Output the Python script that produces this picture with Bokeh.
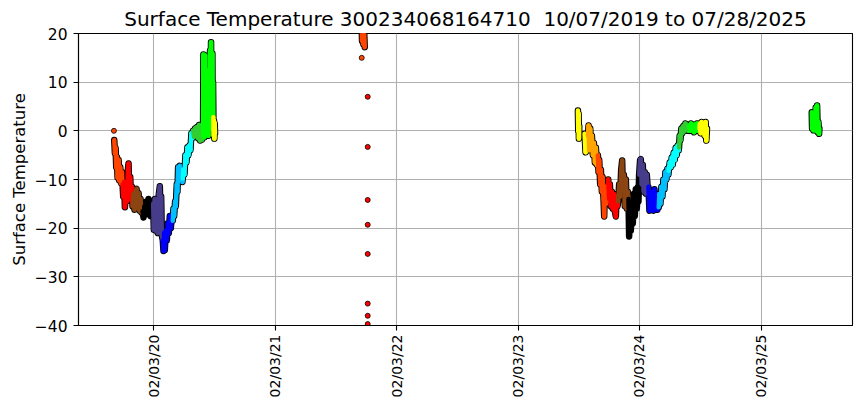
import numpy as np
import pandas as pd
from bokeh.plotting import figure
from bokeh.models import Range1d, FixedTicker, DatetimeTickFormatter
from bokeh.embed import file_html
from bokeh.resources import INLINE

# ---------------- data ----------------
# month -> marker colour
month_colors = {1: "#000000", 2: "#483D8B", 3: "#0000FF", 4: "#00BFFF",
                5: "#00FFFF", 6: "#32CD32", 7: "#00FF00", 8: "#FFFF00",
                9: "#FFA500", 10: "#FF4500", 11: "#FF0000", 12: "#8B4513"}

seg_2019_dates = [
    "2019-10-08", "2019-10-10", "2019-10-12", "2019-10-14", "2019-10-16", "2019-10-18",
    "2019-10-21", "2019-10-23", "2019-10-26", "2019-10-29", "2019-10-31",
    "2019-11-02", "2019-11-04", "2019-11-07", "2019-11-09", "2019-11-12", "2019-11-15",
    "2019-11-18", "2019-11-20", "2019-11-22", "2019-11-25", "2019-11-28", "2019-11-30",
    "2019-12-02", "2019-12-05", "2019-12-08", "2019-12-11", "2019-12-14", "2019-12-17",
    "2019-12-20", "2019-12-23", "2019-12-26", "2019-12-29",
    "2020-01-01", "2020-01-04", "2020-01-07", "2020-01-10", "2020-01-13", "2020-01-16",
    "2020-01-19", "2020-01-22", "2020-01-25", "2020-01-28", "2020-01-31",
    "2020-02-02", "2020-02-04", "2020-02-07", "2020-02-10", "2020-02-13", "2020-02-16",
    "2020-02-19", "2020-02-22", "2020-02-24", "2020-02-26", "2020-02-28",
    "2020-03-02", "2020-03-04", "2020-03-06", "2020-03-08", "2020-03-11", "2020-03-14",
    "2020-03-17", "2020-03-20", "2020-03-23", "2020-03-26", "2020-03-29",
    "2020-04-01", "2020-04-03", "2020-04-05", "2020-04-08", "2020-04-10", "2020-04-13",
    "2020-04-15", "2020-04-17", "2020-04-19", "2020-04-22", "2020-04-25", "2020-04-28",
    "2020-04-30",
    "2020-05-01", "2020-05-03", "2020-05-06", "2020-05-09", "2020-05-12", "2020-05-15",
    "2020-05-18", "2020-05-21", "2020-05-24", "2020-05-27", "2020-05-30",
    "2020-06-01", "2020-06-04", "2020-06-07", "2020-06-10", "2020-06-13", "2020-06-16",
    "2020-06-19", "2020-06-22", "2020-06-25", "2020-06-28",
    "2020-07-01", "2020-07-02", "2020-07-03", "2020-07-04", "2020-07-05", "2020-07-07",
    "2020-07-08", "2020-07-10", "2020-07-11", "2020-07-13", "2020-07-14", "2020-07-16",
    "2020-07-17", "2020-07-19", "2020-07-20", "2020-07-22", "2020-07-23", "2020-07-25",
    "2020-07-26", "2020-07-27", "2020-07-28", "2020-07-29", "2020-07-30", "2020-07-31",
    "2020-08-01", "2020-08-02", "2020-08-03", "2020-08-04", "2020-08-05", "2020-08-06",
]
seg_2019_temps = [
    -1.9, -4.6, -3.5, -7.5, -5.4, -9.6, -6.0, -10.2, -7.5, -10.8, -8.5,
    -11.0, -13.5, -10.5, -15.7, -12.0, -14.5, -8.0, -6.7, -13.8, -9.5, -14.2, -11.5,
    -15.5, -13.0, -16.2, -12.5, -11.9, -15.8, -12.8, -16.4, -14.0, -16.8,
    -16.5, -17.8, -15.5, -17.2, -14.5, -17.0, -14.0, -16.0, -17.5, -15.0, -16.8,
    -15.0, -20.3, -14.0, -20.5, -15.5, -21.0, -13.0, -11.4, -19.0, -13.5, -21.5,
    -22.5, -24.7, -21.0, -24.5, -20.5, -22.5, -19.0, -21.0, -17.5, -20.0, -17.4,
    -18.5, -16.0, -17.5, -14.5, -15.5, -11.0, -12.5, -7.5, -9.5, -7.2, -10.0, -8.0, -10.5,
    -9.8, -8.0, -9.0, -5.0, -6.5, -3.4, -5.0, -3.0, -4.0, -0.5, -1.5,
    0.0, -1.2, 0.5, -0.8, 0.8, -1.5, 1.2, -2.0, 0.5, -1.8,
    -1.0, 15.7, 0.5, 12.0, -1.3, 15.5, 1.0, 8.0, -0.5, 10.0, 0.0, 6.0,
    -1.0, 12.5, 2.0, 16.5, 1.5, 18.2, 3.0, 14.0, 0.5, 15.9, 1.0, 10.0,
    2.8, -1.0, 2.0, -1.6, 1.5, -0.5,
]

seg_2021_dates = ["2021-10-20", "2021-10-22", "2021-10-24", "2021-10-26", "2021-10-28", "2021-10-30"]
seg_2021_temps = [24.0, 18.5, 23.0, 17.8, 21.0, 17.2]

seg_2023a_dates = ["2023-08-02", "2023-08-03", "2023-08-04", "2023-08-05", "2023-08-06"]
seg_2023a_temps = [4.2, 0.0, 3.5, -1.6, 1.0]

seg_2023b_dates = [
    "2023-08-22", "2023-08-25", "2023-08-28", "2023-08-30",
    "2023-09-01", "2023-09-03", "2023-09-05", "2023-09-08", "2023-09-10", "2023-09-13",
    "2023-09-16", "2023-09-19", "2023-09-22", "2023-09-25", "2023-09-28",
    "2023-10-01", "2023-10-03", "2023-10-05", "2023-10-08", "2023-10-10", "2023-10-13",
    "2023-10-15", "2023-10-18", "2023-10-20", "2023-10-22", "2023-10-25", "2023-10-28",
    "2023-10-30",
    "2023-11-01", "2023-11-04", "2023-11-06", "2023-11-09", "2023-11-12", "2023-11-15",
    "2023-11-18", "2023-11-21", "2023-11-24", "2023-11-26", "2023-11-29",
    "2023-12-01", "2023-12-04", "2023-12-07", "2023-12-10", "2023-12-13", "2023-12-15",
    "2023-12-18", "2023-12-21", "2023-12-24", "2023-12-27", "2023-12-30",
    "2024-01-01", "2024-01-03", "2024-01-05", "2024-01-08", "2024-01-11", "2024-01-14",
    "2024-01-17", "2024-01-20", "2024-01-23", "2024-01-26", "2024-01-29", "2024-01-31",
    "2024-02-02", "2024-02-05", "2024-02-07", "2024-02-10", "2024-02-13", "2024-02-16",
    "2024-02-19", "2024-02-22", "2024-02-25", "2024-02-28",
    "2024-03-01", "2024-03-04", "2024-03-07", "2024-03-10", "2024-03-13", "2024-03-16",
    "2024-03-19", "2024-03-22", "2024-03-25", "2024-03-28", "2024-03-31",
    "2024-04-01", "2024-04-03", "2024-04-06", "2024-04-09", "2024-04-12", "2024-04-15",
    "2024-04-18", "2024-04-21", "2024-04-24", "2024-04-27", "2024-04-30",
    "2024-05-01", "2024-05-04", "2024-05-07", "2024-05-10", "2024-05-13", "2024-05-16",
    "2024-05-19", "2024-05-22", "2024-05-25", "2024-05-28", "2024-05-31",
    "2024-06-01", "2024-06-03", "2024-06-05", "2024-06-08", "2024-06-11", "2024-06-14",
    "2024-06-17", "2024-06-20", "2024-06-23", "2024-06-26", "2024-06-29",
    "2024-07-01", "2024-07-04", "2024-07-07", "2024-07-10", "2024-07-13", "2024-07-16",
    "2024-07-19", "2024-07-22", "2024-07-25", "2024-07-28", "2024-07-31",
    "2024-08-01", "2024-08-03", "2024-08-05", "2024-08-08", "2024-08-11", "2024-08-14",
    "2024-08-17", "2024-08-20", "2024-08-22", "2024-08-24",
]
seg_2023b_temps = [
    -0.6, -4.4, -1.5, -3.5,
    -1.0, 1.1, -4.0, 0.5, -3.0, -1.0, -5.0, -2.5, -6.5, -3.5, -7.0,
    -5.0, -8.5, -6.0, -11.0, -8.0, -12.5, -9.5, -14.0, -17.6, -11.5, -15.0, -12.0, -14.5,
    -10.0, -14.0, -11.0, -15.5, -12.5, -16.0, -13.0, -16.5, -17.6, -13.5, -15.5,
    -14.5, -11.0, -13.5, -8.0, -6.1, -12.0, -9.0, -15.5, -10.0, -16.0, -12.5,
    -14.0, -21.7, -17.0, -20.5, -15.0, -19.0, -13.0, -17.5, -12.0, -16.0, -11.6, -14.5,
    -9.0, -6.0, -5.8, -11.0, -7.0, -12.5, -8.5, -12.9, -9.0, -12.0,
    -11.5, -16.4, -12.5, -16.0, -13.0, -16.4, -12.0, -15.5, -13.0, -16.2, -14.0,
    -15.7, -13.0, -15.0, -11.5, -13.5, -10.0, -12.0, -8.5, -10.0, -7.8, -9.0,
    -8.2, -6.5, -7.5, -5.5, -7.0, -4.5, -6.0, -3.5, -5.0, -3.0, -4.0,
    -3.4, -1.0, -2.0, 0.5, -0.5, 1.0, 0.0, 1.5, 0.3, 1.2, 0.0,
    1.0, 0.0, 1.5, 0.3, 1.2, -0.3, 1.3, 0.2, 1.5, 0.0, 1.0,
    0.5, 1.5, -0.5, 1.8, -0.2, 1.5, -1.0, 1.8, -2.0, 0.5,
]

seg_2025_dates = ["2025-07-05", "2025-07-06", "2025-07-08", "2025-07-10", "2025-07-12",
                  "2025-07-15", "2025-07-17", "2025-07-19", "2025-07-21", "2025-07-23",
                  "2025-07-25", "2025-07-27", "2025-07-28"]
seg_2025_temps = [3.8, 0.5, 3.2, 0.1, 2.5, 1.0, 4.8, 0.0, 5.2, -0.3, 1.8, -0.6, 0.5]

# isolated readings
dot_dates = ["2019-10-07", "2021-10-21", "2021-11-08", "2021-11-08", "2021-11-08",
             "2021-11-08", "2021-11-08", "2021-11-08", "2021-11-08", "2021-11-08"]
dot_temps = [0.0, 15.0, 7.0, -3.3, -14.2, -19.3, -25.3, -35.5, -38.0, -39.7]

x_tick_dates = ["2020-02-03", "2021-02-03", "2022-02-03", "2023-02-03", "2024-02-03", "2025-02-03"]
y_ticks = [-40, -30, -20, -10, 0, 10, 20]

title_text = "Surface Temperature 300234068164710\u00a0 10/07/2019 to 07/28/2025"
y_label = "Surface Temperature"


def to_ms(dates):
    return (pd.to_datetime(dates).astype("int64") // 10**6).astype(float).to_numpy()


paths = [(seg_2019_dates, seg_2019_temps), (seg_2021_dates, seg_2021_temps),
         (seg_2023a_dates, seg_2023a_temps), (seg_2023b_dates, seg_2023b_temps),
         (seg_2025_dates, seg_2025_temps)]

# ---------------- figure ----------------
x_start = to_ms(["2019-06-22 12:00"])[0]
x_end = to_ms(["2025-11-04 12:00"])[0]

p = figure(width=863, height=407, output_backend="svg", toolbar_location=None,
           x_axis_type="datetime",
           x_range=Range1d(x_start, x_end), y_range=Range1d(-40, 20),
           min_border_left=78, min_border_right=11, min_border_top=33, min_border_bottom=82)

FONT = "DejaVu Sans"
p.title.text = title_text
p.title.text_font = FONT
p.title.text_font_size = "20px"
p.title.text_font_style = "normal"
p.title.text_color = "black"
p.title.align = "center"
p.title.standoff = 6

p.background_fill_color = "white"
p.border_fill_color = "white"
p.outline_line_color = "black"
p.outline_line_width = 1.1

for ax in (p.xaxis[0], p.yaxis[0]):
    ax.axis_line_color = "black"
    ax.axis_line_width = 1.1
    ax.major_tick_line_color = "black"
    ax.major_tick_line_width = 1.1
    ax.major_tick_out = 5
    ax.major_tick_in = 0
    ax.minor_tick_line_color = None
    ax.major_label_text_font = FONT
    ax.major_label_text_color = "black"

p.xaxis.ticker = FixedTicker(ticks=list(to_ms(x_tick_dates)))
fmt = "%m/%d/%y"
p.xaxis.formatter = DatetimeTickFormatter(milliseconds=fmt, seconds=fmt, minsec=fmt, minutes=fmt,
                                          hourmin=fmt, hours=fmt, days=fmt, months=fmt, years=fmt)
p.xaxis.major_label_orientation = np.pi / 2
p.xaxis.major_label_text_font_size = "14px"
p.xaxis.major_label_standoff = 4

p.yaxis.ticker = FixedTicker(ticks=y_ticks)
p.yaxis.major_label_overrides = {v: (str(v).replace("-", "\u2212")) for v in y_ticks}
p.yaxis.major_label_text_font_size = "15.5px"
p.yaxis.major_label_standoff = 6
p.yaxis.axis_label = y_label
p.yaxis.axis_label_text_font = FONT
p.yaxis.axis_label_text_font_size = "16.5px"
p.yaxis.axis_label_text_font_style = "normal"
p.yaxis.axis_label_text_color = "black"
p.yaxis.axis_label_standoff = 3

p.xgrid.ticker = p.xaxis.ticker
p.ygrid.ticker = p.yaxis.ticker
for g in (p.xgrid[0], p.ygrid[0]):
    g.grid_line_color = "#b0b0b0"
    g.grid_line_width = 1.1

# black outline of the dense marker trails
for d, t in paths:
    p.line(to_ms(d), t, line_color="black", line_width=6.5, line_join="round", line_cap="round")

# coloured interior, coloured by month of each reading
for d, t in paths:
    xs = to_ms(d)
    months = pd.to_datetime(d).month
    cols = [month_colors[m] for m in months[:-1]]
    p.segment(x0=xs[:-1], y0=t[:-1], x1=xs[1:], y1=t[1:], line_color=cols,
              line_width=4.5, line_cap="round")

# isolated readings
dcols = [month_colors[m] for m in pd.to_datetime(dot_dates).month]
p.scatter(to_ms(dot_dates), dot_temps, size=5, fill_color=dcols, line_color="black", line_width=0.8)

open("out.html", "w").write(file_html(p, INLINE))
